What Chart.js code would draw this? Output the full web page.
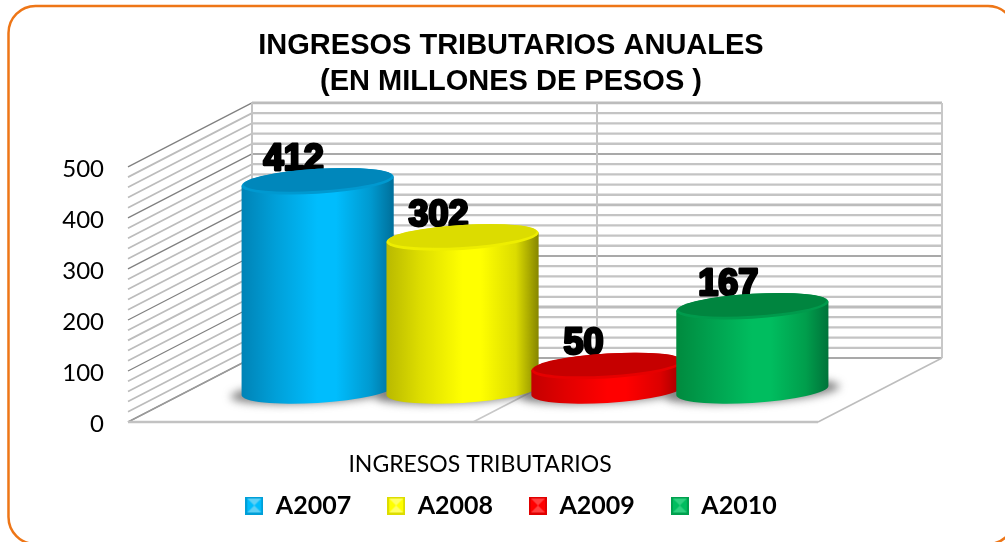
<!DOCTYPE html>
<html><head><meta charset="utf-8">
<style>html,body{margin:0;padding:0;background:#fff}canvas{display:block}</style>
<script src="https://cdn.jsdelivr.net/npm/chart.js@4"></script>
</head><body><canvas id="c" width="1005" height="542"></canvas>
<script>
const categories = ['INGRESOS TRIBUTARIOS'];
const seriesNames = ['A2007','A2008','A2009','A2010'];
const seriesValues = [412,302,50,167];
const titleLines = ['INGRESOS TRIBUTARIOS ANUALES','(EN MILLONES DE PESOS )'];
const yMax = 500, yMajor = 100, yMinor = 20;
const bodyStops = [
 ['#0083b6','#009fd8','#00bdfd','#00bdfd','#0099cf','#006f9a'],
 ['#b9b900','#dddd00','#ffff00','#ffff00','#dcdc00','#868600'],
 ['#c40000','#e00000','#ff0000','#ff0000','#dc0000','#9c0000'],
 ['#008a3e','#00a04e','#00bd5f','#00bd5f','#009e4c','#00733a']];
const stopPos = [0,.22,.5,.62,.85,1];
const topDark = ['#0087bb','#dcdc00','#c60000','#00853f'];
const topRim = ['#0099d0','#eeee00','#e60000','#009a4c'];
const legendLight = ['#5fd0f5','#ffff66','#ff4040','#30d080'];
const depthX = 124, depthY = -64, midX = 62, midY = -31.5, shear = 0.06, ry = 12.5;
const FONT = 'Lato, "Noto Sans", sans-serif';

function marker(i){
  const s=18,c=document.createElement('canvas');c.width=s;c.height=s;
  const g=c.getContext('2d');
  g.fillStyle=bodyStops[i][2];g.fillRect(0,0,s,s);
  g.fillStyle=bodyStops[i][1];g.fillRect(0,0,s,2);g.fillRect(0,s-2,s,2);g.fillRect(0,0,2,s);g.fillRect(s-2,0,2,s);
  g.fillStyle=legendLight[i];g.beginPath();g.moveTo(2,2);g.lineTo(s/2,s/2);g.lineTo(s-2,2);g.closePath();g.fill();
  g.beginPath();g.moveTo(2,s-2);g.lineTo(s/2,s/2);g.lineTo(s-2,s-2);g.closePath();g.fill();
  return c;
}
const markers = seriesNames.map((_,i)=>marker(i));

function seg(ctx,x1,y1,x2,y2,col,w){ctx.strokeStyle=col;ctx.lineWidth=w;ctx.beginPath();ctx.moveTo(x1,y1);ctx.lineTo(x2,y2);ctx.stroke();}

const frame = {id:'frame',
 afterLayout(ch){ const s=ch.scales.x; s.bottom=s.top+60; },
 beforeDraw(ch){
  const c=ch.ctx;c.save();c.fillStyle='#fff';c.fillRect(0,0,1005,542);
  c.strokeStyle='#ee7617';c.lineWidth=2.5;c.beginPath();c.roundRect(8.5,6,1006.5,538,27);c.stroke();c.restore();
}};
const walls = {id:'walls',beforeDatasetsDraw(ch){
  const c=ch.ctx,{x,y}=ch.scales,L=ch.chartArea.left,R=ch.chartArea.right;
  c.save();c.lineCap='butt';c.filter='blur(0.45px)';
  const y0=y.getPixelForValue(0),yT=y.getPixelForValue(yMax);
  for(let v=0;v<=yMax;v+=yMinor){
    const p=y.getPixelForValue(v),maj=v%yMajor===0;
    const bx1=L+depthX,bx2=R+depthX,by=p+depthY;
    if(maj){ if((v/yMajor)%2===0) seg(c,bx1,by,bx2,by,'#8c8c8c',1.5); else seg(c,bx1,by,bx2,by,'#bcbcbc',2.8);}
    else seg(c,bx1,by,bx2,by,'#c4c4c4',2.3);
    seg(c,L,p,bx1,by,maj?'#808080':'#bcbcbc',maj?1.3:1.7);
  }
  seg(c,L+depthX,yT+depthY,L+depthX,y0+depthY,'#c4c4c4',2);
  const mid=x.getPixelForTick(0);
  seg(c,mid+depthX,yT+depthY,mid+depthX,y0+depthY,'#c4c4c4',2);
  seg(c,R+depthX,yT+depthY,R+depthX,y0+depthY,'#c8c8c8',2);
  seg(c,mid,y0,mid+depthX,y0+depthY,'#c8c8c8',1.5);
  seg(c,R,y0,R+depthX,y0+depthY,'#bdbdbd',1.5);
  seg(c,L,y0,L+depthX,y0+depthY,'#9a9a9a',1.5);
  seg(c,L,y0,R,y0,'#c2c2c2',2.6);
  c.restore();

  const bars=seriesNames.map((_,i)=>ch.getDatasetMeta(i).data[0]);
  // shadows
  bars.forEach(b=>{
    const cx=b.x+midX,by=y.getPixelForValue(0)+midY,rx=b.width*0.525;
    c.save();c.filter='blur(4px)';c.fillStyle='rgba(90,90,90,.75)';
    c.translate(cx,by);c.transform(1,-shear,0,1,0,0);
    c.beginPath();c.ellipse(0,1,rx+11,ry-1,0,0,Math.PI*2);c.fill();c.restore();
  });
  // value labels sit behind the cylinders
  bars.forEach((b,i)=>{
    const cx=b.x+midX-24,ty=b.y+midY-20.5;
    c.save();c.font='bold 36px "Liberation Sans", Arial, sans-serif';c.textAlign='center';c.textBaseline='middle';
    c.lineJoin='round';c.lineWidth=2.8;c.strokeStyle='#000';c.fillStyle='#000';
    c.strokeText(String(seriesValues[i]),cx,ty);c.fillText(String(seriesValues[i]),cx,ty);c.restore();
  });
  // cylinders, later series in front
  bars.forEach((b,i)=>{
    const cx=b.x+midX,by=y.getPixelForValue(0)+midY,ty=b.y+midY,rx=b.width*0.525,h=by-ty;
    c.save();c.filter='blur(0.4px)';c.translate(cx,ty);c.transform(1,-shear,0,1,0,0);
    const g=c.createLinearGradient(-rx,0,rx,0);
    stopPos.forEach((p,k)=>g.addColorStop(p,bodyStops[i][k]));
    c.fillStyle=g;c.beginPath();c.moveTo(-rx,0);c.lineTo(-rx,h);
    c.ellipse(0,h,rx,ry,0,Math.PI,0,true);c.lineTo(rx,0);c.ellipse(0,0,rx,ry,0,0,Math.PI,false);c.closePath();c.fill();
    c.fillStyle=topRim[i];c.beginPath();c.ellipse(0,1,rx,ry,0,0,Math.PI*2);c.fill();
    c.fillStyle=topDark[i];c.beginPath();c.ellipse(0,-0.5,rx-2,ry-1.5,0,0,Math.PI*2);c.fill();
    c.restore();
  });
  return false;
}};

new Chart(document.getElementById('c'),{
  type:'bar',
  data:{labels:categories,datasets:seriesNames.map((n,i)=>({label:n,data:[seriesValues[i]],backgroundColor:bodyStops[i][2]}))},
  plugins:[frame,walls],
  options:{
    responsive:false,animation:false,
    layout:{padding:{left:17,right:0,top:28,bottom:14}},
    datasets:{bar:{categoryPercentage:0.84,barPercentage:1}},
    scales:{
      x:{grid:{display:false},border:{display:false},
         ticks:{color:'#000',font:{family:FONT,size:23},padding:21,labelOffset:7,maxRotation:0},
         afterFit(s){s.height=35;}},
      y:{min:0,max:yMax,grid:{display:false},border:{display:false},
         ticks:{stepSize:yMajor,color:'#000',font:{family:FONT,size:24},padding:16,labelOffset:2.5,autoSkip:false},
         afterFit(s){s.width=111;}},
      pad:{position:'right',grid:{display:false},border:{display:false},ticks:{display:false},afterFit(s){s.width=187;}}
    },
    plugins:{
      tooltip:{enabled:false},
      title:{display:true,text:titleLines,color:'#000',font:{family:'"Liberation Sans", Arial, sans-serif',size:29,weight:'bold',lineHeight:1.24},padding:{top:0,bottom:67}},
      legend:{position:'bottom',onClick:null,
        labels:{color:'#000',usePointStyle:true,boxWidth:18,boxHeight:18,padding:36,font:{family:FONT,size:25,weight:'bold'},
          generateLabels(){return seriesNames.map((n,i)=>({text:n,pointStyle:markers[i],fontColor:'#000',datasetIndex:i,lineWidth:0,strokeStyle:'transparent',fillStyle:bodyStops[i][2]}));}}}
    }
  }
});
</script></body></html>
